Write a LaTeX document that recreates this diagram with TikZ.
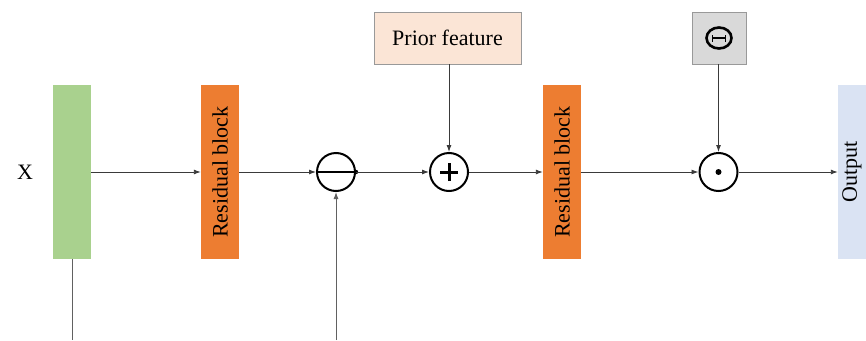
\documentclass[tikz,border=0pt]{standalone}
\usepackage{fontspec}
\setmainfont{Liberation Serif}
\usetikzlibrary{arrows.meta}
\definecolor{greenbox}{HTML}{A9D18E}
\definecolor{orangebox}{HTML}{ED7D31}
\definecolor{priorbox}{HTML}{FBE5D6}
\definecolor{graybox}{HTML}{D9D9D9}
\definecolor{outbox}{HTML}{DAE3F3}
\definecolor{linec}{HTML}{3A3A3A}
\tikzset{
  bar/.style={rectangle, inner sep=0pt, minimum width=38pt, minimum height=174pt},
  topbox/.style={rectangle, inner sep=0pt, draw=gray!80, line width=0.8pt, minimum height=52pt},
  opcircle/.style={circle, draw=black, line width=2pt, minimum size=38pt, inner sep=0pt},
  conn/.style={draw=linec, line width=0.9pt, -{Latex[length=7pt,width=5pt]}},
  plain/.style={draw=linec!80, line width=0.9pt},
  lbl/.style={font=\fontsize{22}{24}\selectfont}
}
\begin{document}
\begin{tikzpicture}[x=1pt,y=-1pt]
\useasboundingbox (0,0) rectangle (866,340);
\node[lbl] (x) at (25,172) {X};
\node[bar, fill=greenbox] (g) at (72,172) {};
\node[bar, fill=orangebox] (rb1) at (220,172) {};
\node[lbl, rotate=90] at (rb1.center) {Residual block};
\node[bar, fill=orangebox] (rb2) at (562,172) {};
\node[lbl, rotate=90] at (rb2.center) {Residual block};
\node[bar, fill=outbox, minimum width=28pt] (out) at (852,172) {};
\node[lbl, rotate=90] at (out.center) {Output};
\node[topbox, fill=priorbox, minimum width=147pt, lbl] (prior) at (447.5,38) {Prior feature};
\node[topbox, fill=graybox, minimum width=54pt] (theta) at (719,38) {};
\draw[line width=2.6pt] (theta.center) ellipse [x radius=12.5pt, y radius=10.5pt];
\draw[line width=2.4pt] ([xshift=-6.5pt]theta.center) -- ([xshift=6.5pt]theta.center);
\draw[line width=1.8pt] ([xshift=-6.5pt,yshift=-3.5pt]theta.center) -- ([xshift=-6.5pt,yshift=3.5pt]theta.center);
\draw[line width=1.8pt] ([xshift=6.5pt,yshift=-3.5pt]theta.center) -- ([xshift=6.5pt,yshift=3.5pt]theta.center);
\node[opcircle] (minus) at (336,172) {};
\draw[line width=1.2pt] (minus.west) -- (minus.east);
\fill (minus.east) circle (2.2pt);
\node[opcircle] (plus) at (449,172) {};
\draw[line width=3pt] ([xshift=-9pt]plus.center) -- ([xshift=9pt]plus.center);
\draw[line width=3pt] ([yshift=-9pt]plus.center) -- ([yshift=9pt]plus.center);
\node[opcircle] (dot) at (718.5,172) {};
\fill (dot.center) circle (3pt);
\coordinate (gb) at (72,340);
\coordinate (mb) at (336,340);
\draw[conn] (g.east) -- (rb1.west);
\draw[conn] (rb1.east) -- (minus.west);
\draw[conn] (minus.east) -- (plus.west);
\draw[conn] (plus.east) -- (rb2.west);
\draw[conn] (rb2.east) -- (dot.west);
\draw[conn] (dot.east) -- (out.west);
\draw[conn] (prior.south -| plus.north) -- (plus.north);
\draw[conn] (theta.south -| dot.north) -- (dot.north);
\draw[plain] (g.south) -- (gb);
\draw[conn, draw=linec!80] (mb) -- (minus.south);
\end{tikzpicture}
\end{document}
